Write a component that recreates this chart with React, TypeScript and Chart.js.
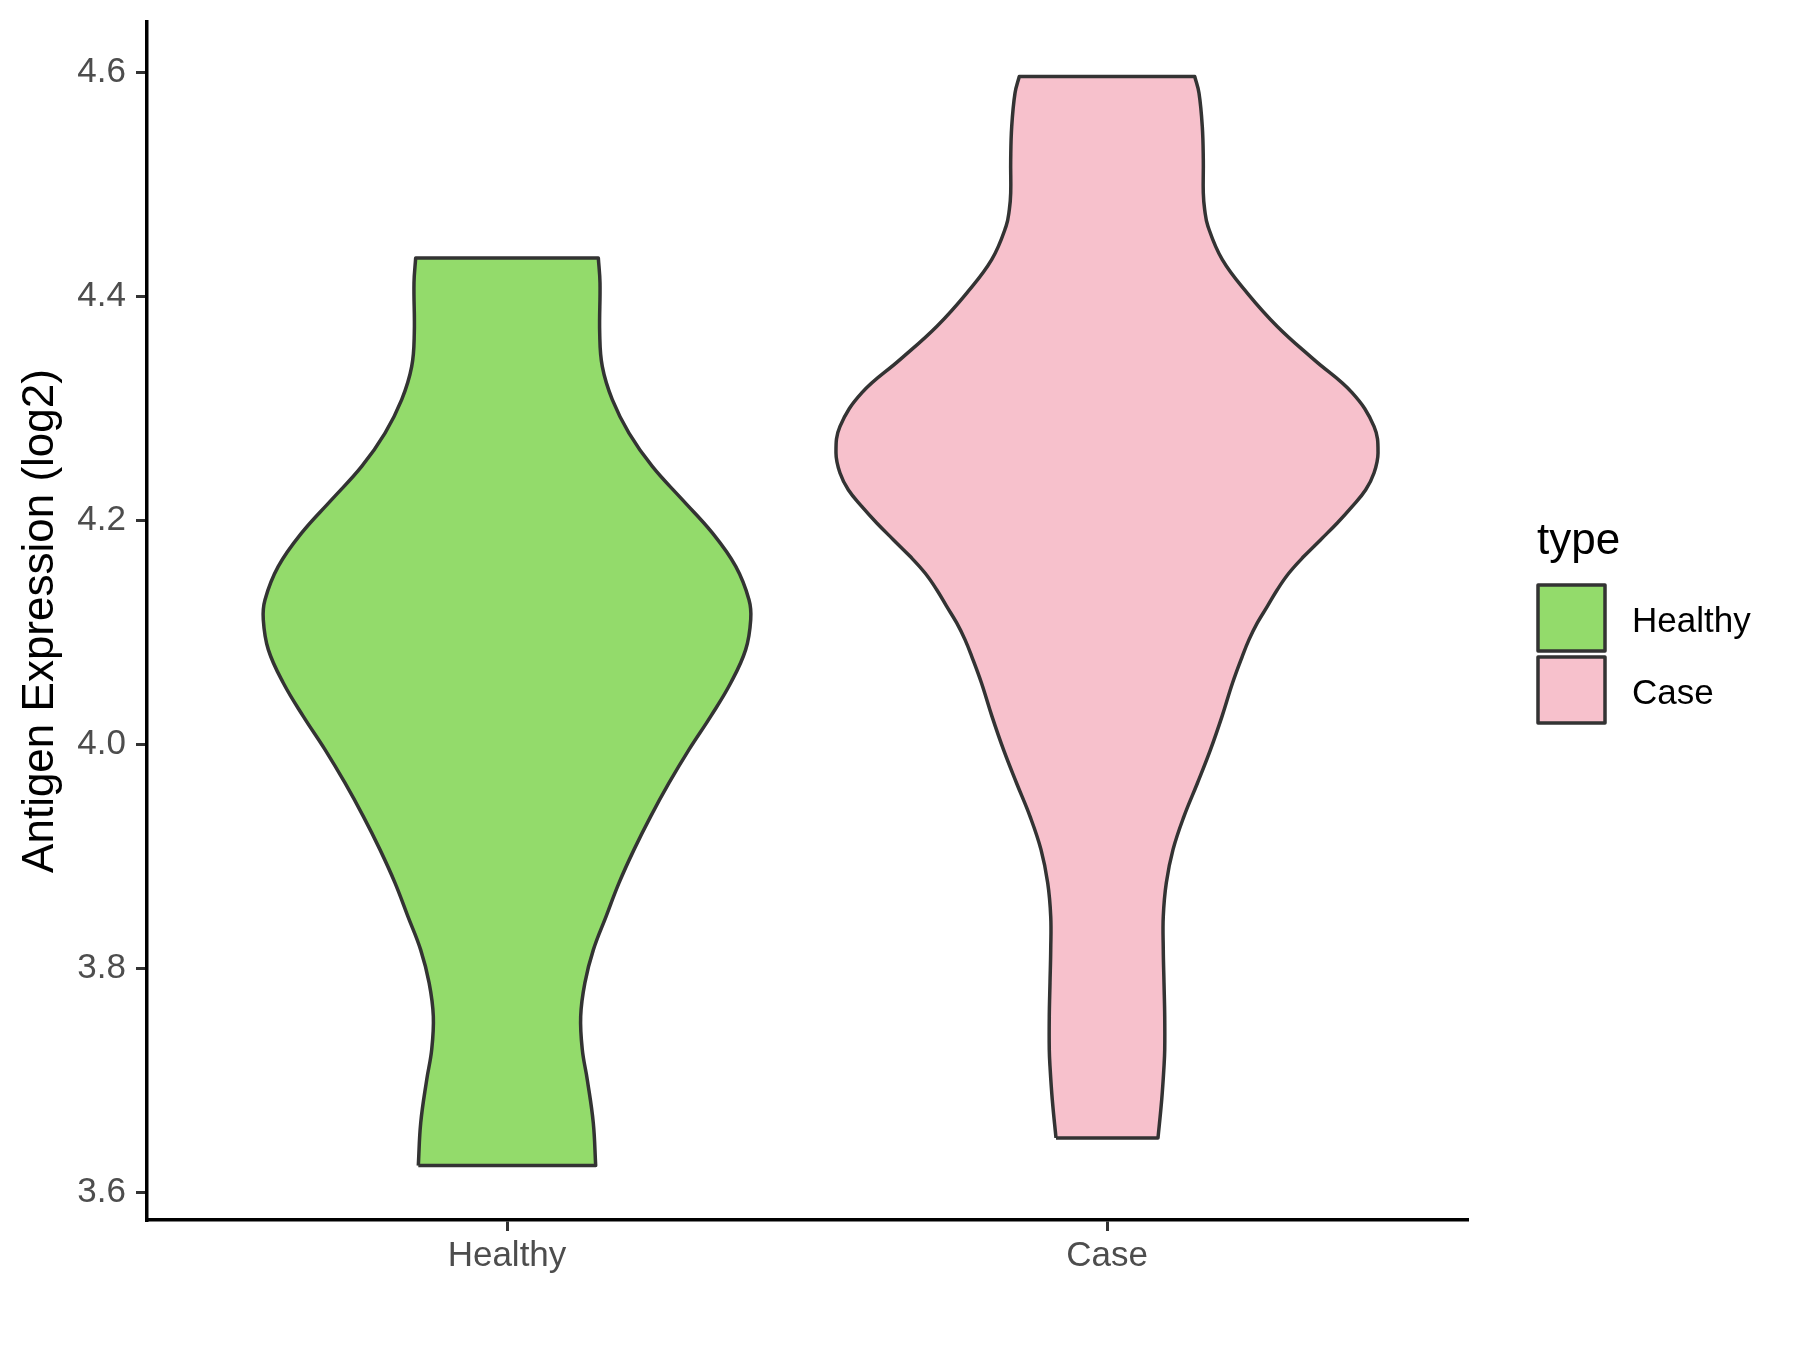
import React, { useEffect, useRef } from 'react';
import { Chart, registerables } from 'chart.js';

Chart.register(...registerables);

const categories = ['Healthy', 'Case'];
const fillColors = ['#93DB6B', '#F7C1CC'];
const outlineColor = '#333333';
const yTickValues = [3.6, 3.8, 4.0, 4.2, 4.4, 4.6];
const yAxisTitle = 'Antigen Expression (log2)';
const legendTitle = 'type';

// Violin outlines: y values (bottom to top) and half widths (in x-axis units)
const healthyY = [
  3.6238, 3.6619, 3.7005, 3.7273, 3.7571, 3.7869, 3.8166, 3.8463, 3.8762, 3.9059,
  3.9356, 3.9654, 3.9952, 4.0249, 4.0547, 4.0845, 4.1113, 4.1291, 4.1588, 4.1887,
  4.2184, 4.2481, 4.2779, 4.3077, 4.3374, 4.3672, 4.4119, 4.4342,
];
const healthyHalfWidth = [
  0.1478, 0.1438, 0.1338, 0.1255, 0.1228, 0.1298, 0.144, 0.1652, 0.1867, 0.2117,
  0.2395, 0.27, 0.3033, 0.3395, 0.3728, 0.3978, 0.4062, 0.4033, 0.3812, 0.3422,
  0.2922, 0.2422, 0.2033, 0.1755, 0.1588, 0.1545, 0.155, 0.1522,
];
const caseY = [
  3.6485, 3.6827, 3.7124, 3.7273, 3.757, 3.7869, 3.8166, 3.8463, 3.8762, 3.9059,
  3.9356, 3.9654, 3.9952, 4.0249, 4.0547, 4.0785, 4.0934, 4.1083, 4.1231, 4.138,
  4.1529, 4.1678, 4.1827, 4.1976, 4.2124, 4.2273, 4.2422, 4.2601, 4.2838, 4.3137,
  4.3434, 4.3731, 4.4029, 4.4327, 4.4624, 4.4773, 4.4922, 4.522, 4.5517, 4.5815,
  4.5963,
];
const caseHalfWidth = [
  0.085, 0.0912, 0.095, 0.0962, 0.0962, 0.095, 0.0938, 0.0938, 0.0988, 0.11,
  0.1283, 0.1508, 0.1725, 0.1917, 0.2092, 0.2255, 0.2367, 0.2505, 0.2672, 0.2838,
  0.3033, 0.3283, 0.3562, 0.3838, 0.4088, 0.4312, 0.445, 0.4517, 0.445, 0.4088,
  0.345, 0.2838, 0.2338, 0.1922, 0.1683, 0.1628, 0.1605, 0.1605, 0.1588, 0.1533,
  0.1462,
];

const FONT = '"Liberation Sans", Arial, Helvetica, sans-serif';

// Closed outline; corner points are repeated so the spline keeps sharp corners
function outline(center: number, ys: number[], hws: number[]) {
  const left = ys.map((y, i) => ({ x: center - hws[i], y }));
  const right = ys.map((y, i) => ({ x: center + hws[i], y })).reverse();
  const n = left.length;
  return [
    left[0],
    ...left,
    left[n - 1],
    right[0],
    ...right,
    right[n - 1],
    left[0],
    left[0],
  ];
}

const legendPlugin = {
  id: 'ggLegend',
  afterDraw(chart: any) {
    const ctx = chart.ctx;
    ctx.save();
    ctx.fillStyle = '#000000';
    ctx.font = `44px ${FONT}`;
    ctx.textAlign = 'left';
    ctx.textBaseline = 'alphabetic';
    ctx.fillText(legendTitle, 1537, 554);
    const keyX = 1538;
    const keyTop = 585;
    const keyW = 67;
    const keyH = 66;
    const keyStep = 72;
    categories.forEach((c, i) => {
      const y = keyTop + i * keyStep;
      ctx.fillStyle = fillColors[i];
      ctx.fillRect(keyX, y, keyW, keyH);
      ctx.strokeStyle = outlineColor;
      ctx.lineWidth = 3.5;
      ctx.lineJoin = 'round';
      ctx.strokeRect(keyX, y, keyW, keyH);
      ctx.fillStyle = '#000000';
      ctx.font = `35px ${FONT}`;
      ctx.fillText(c, 1632, y + 46.5);
    });
    ctx.restore();
  },
};

export default function App() {
  const canvasRef = useRef<HTMLCanvasElement | null>(null);

  useEffect(() => {
    document.body.style.margin = '0';
    const canvas = canvasRef.current;
    if (!canvas) return;
    const allY = [...healthyY, ...caseY];
    const dMin = Math.min(...allY);
    const dMax = Math.max(...allY);
    const pad = (dMax - dMin) * 0.05;

    const violinStyle = {
      showLine: true,
      fill: 'shape',
      borderColor: outlineColor,
      borderWidth: 3.5,
      pointRadius: 0,
      pointHoverRadius: 0,
      tension: 0.4,
      borderJoinStyle: 'round',
    };

    const chart = new Chart(canvas, {
      type: 'scatter',
      data: {
        datasets: [
          {
            label: categories[0],
            data: outline(1, healthyY, healthyHalfWidth),
            backgroundColor: fillColors[0],
            ...violinStyle,
          },
          {
            label: categories[1],
            data: outline(2, caseY, caseHalfWidth),
            backgroundColor: fillColors[1],
            ...violinStyle,
          },
        ] as any,
      },
      options: {
        animation: false,
        responsive: false,
        devicePixelRatio: 1,
        layout: { padding: { top: 22, right: 333, bottom: 0, left: 0 } },
        plugins: {
          legend: { display: false },
          tooltip: { enabled: false },
        },
        scales: {
          x: {
            type: 'linear',
            min: 0.4,
            max: 2.6,
            afterBuildTicks: (scale: any) => {
              scale.ticks = categories.map((_, i) => ({ value: i + 1 }));
            },
            afterFit: (scale: any) => {
              scale.height = 130;
              scale.paddingLeft = 0;
              scale.paddingRight = 0;
            },
            ticks: {
              autoSkip: false,
              maxRotation: 0,
              color: '#4D4D4D',
              font: { family: FONT, size: 35 },
              padding: 4,
              callback: (v: any) => categories[Math.round(Number(v)) - 1] ?? '',
            },
            grid: {
              display: true,
              drawOnChartArea: false,
              drawTicks: true,
              tickLength: 11,
              tickColor: '#333333',
              tickWidth: 3,
              lineWidth: 3,
              color: '#333333',
            },
            border: { display: true, color: '#000000', width: 3.5 },
          },
          y: {
            type: 'linear',
            min: dMin - pad,
            max: dMax + pad,
            afterBuildTicks: (scale: any) => {
              scale.ticks = yTickValues.map((v) => ({ value: v }));
            },
            afterFit: (scale: any) => {
              scale.width = 147;
              scale.paddingTop = 0;
              scale.paddingBottom = 0;
            },
            ticks: {
              color: '#4D4D4D',
              font: { family: FONT, size: 35 },
              padding: 10,
              callback: (v: any) => Number(v).toFixed(1),
            },
            grid: {
              display: true,
              drawOnChartArea: false,
              drawTicks: true,
              tickLength: 11,
              tickColor: '#333333',
              tickWidth: 3,
              lineWidth: 3,
              color: '#333333',
            },
            border: { display: true, color: '#000000', width: 3.5 },
            title: {
              display: true,
              text: yAxisTitle,
              color: '#000000',
              font: { family: FONT, size: 44 },
              padding: { top: 14, bottom: 0 },
            },
          },
        },
      },
      plugins: [legendPlugin],
    });

    return () => {
      chart.destroy();
    };
  }, []);

  return (
    <div style={{ width: 1800, height: 1350 }}>
      <canvas ref={canvasRef} width={1800} height={1350} style={{ display: 'block' }} />
    </div>
  );
}
